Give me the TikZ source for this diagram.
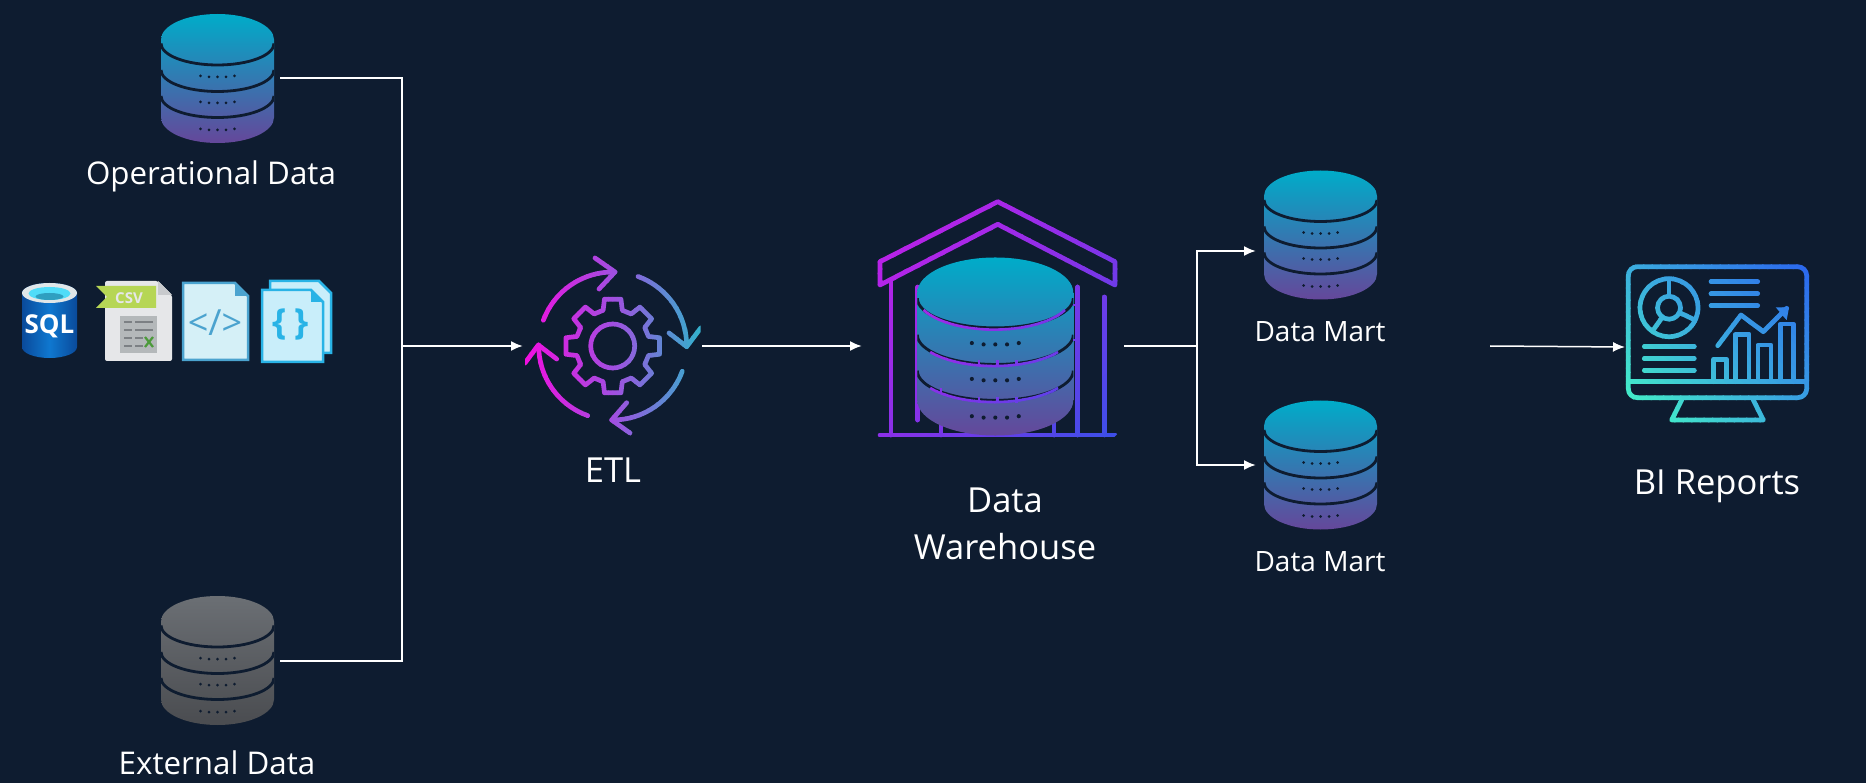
\documentclass[tikz,border=0pt]{standalone}
\usepackage{fontspec}
\setmainfont{Open Sans}
\usetikzlibrary{arrows.meta}

\definecolor{bgnavy}{HTML}{0E1C30}
\definecolor{dbtop}{HTML}{00ACC9}
\definecolor{dbmid}{HTML}{2F7FB2}
\definecolor{dbbot}{HTML}{65479A}
\definecolor{greytop}{HTML}{6B6F74}
\definecolor{greymid}{HTML}{5A5D62}
\definecolor{greybot}{HTML}{4A4C50}
\definecolor{codeline}{HTML}{4BA3CF}
\definecolor{jsonline}{HTML}{29B3E6}
\definecolor{sqldeep}{HTML}{0A4A9A}
\definecolor{sqlmid}{HTML}{0F78D0}
\definecolor{sqlrim}{HTML}{E0E6E8}
\definecolor{sqlcyan}{HTML}{50DCF8}
\definecolor{sqlcyandk}{HTML}{2F9FC0}
\definecolor{csvpaper}{HTML}{E6E7E9}
\definecolor{csvfold}{HTML}{C8CACD}
\definecolor{csvsheet}{HTML}{B4B8BA}
\definecolor{csvbar}{HTML}{7C8084}
\definecolor{csvgreen}{HTML}{4C9A3A}
\definecolor{csvribbon}{HTML}{B6D655}
\definecolor{codepaper}{HTML}{D5F0F7}
\definecolor{jsonpaper}{HTML}{C9EEFA}
\definecolor{etlmag}{HTML}{F010E0}
\definecolor{etlvio}{HTML}{A050E0}
\definecolor{etlteal}{HTML}{30B4CC}
\definecolor{housea}{HTML}{C81EE8}
\definecolor{houseb}{HTML}{8A30E8}
\definecolor{housec}{HTML}{3A50E8}
\definecolor{mona}{HTML}{45F5C5}
\definecolor{monb}{HTML}{3AA8E0}
\definecolor{monc}{HTML}{2B66EE}

\tikzset{
  wire/.style={draw=white, line width=2pt},
  link/.style={wire, -{Latex[length=12pt,width=10pt]}},
  iconbox/.style={inner sep=0pt, outer sep=0pt},
  bandline/.style={draw=bandcol, line width=4.7pt, line cap=round, line join=round},
  lblbig/.style={inner sep=0pt, text=white, align=center, font=\fontsize{34.5}{47}\selectfont},
  lblmid/.style={inner sep=0pt, text=white, font=\fontsize{31.3}{38}\selectfont},
  lblsmall/.style={inner sep=0pt, text=white, font=\fontsize{28}{34}\selectfont},
  dbblue/.style={top color=dbtop, middle color=dbmid, bottom color=dbbot},
  dbgrey/.style={top color=greytop, middle color=greymid, bottom color=greybot},
}

% stack of three discs: x, y, scale, colours
\newcommand{\dbstack}[4]{
  \begin{scope}[shift={(#1,#2)}, scale=#3]
    \path[#4] (-56.5,-39) arc[start angle=180, end angle=360, x radius=56.5, y radius=25.5]
      -- (56.5,39) arc[start angle=0, end angle=180, x radius=56.5, y radius=25.5] -- cycle;
    \begin{scope}
      \clip (-56.5,-39) arc[start angle=180, end angle=360, x radius=56.5, y radius=25.5]
        -- (56.5,39) arc[start angle=0, end angle=180, x radius=56.5, y radius=25.5] -- cycle;
      \foreach \yy in {-35,-8.5,17.5}
        \draw[bgnavy, line width=2.8pt] (56.5,\yy) arc[start angle=0, end angle=180, x radius=56.5, y radius=21.5];
    \end{scope}
    \foreach \yy in {-1.5,24.5,51.5}
      \foreach \xx/\dd in {-17/-1,-8.5/0,0/0,8.5/0,17/-1}
        \fill[bgnavy] (\xx,\yy+\dd) circle[radius=1.5];
  \end{scope}
}

% strokes of one icon in colour bands: strokes, start x, y, end x, y, three stops
\newcommand{\gradbands}[8]{
  \foreach \bandno in {0,...,39}{
    \pgfmathsetmacro{\sa}{\bandno/40}
    \pgfmathsetmacro{\sb}{(\bandno+1)/40+0.003}
    \pgfmathsetmacro{\vx}{#4-#2}
    \pgfmathsetmacro{\vy}{#5-#3}
    \ifnum\bandno<20
      \pgfmathsetmacro{\pa}{100-5*\bandno}
      \colorlet{bandcol}{#6!\pa!#7}
    \else
      \pgfmathsetmacro{\pa}{200-5*\bandno}
      \colorlet{bandcol}{#7!\pa!#8}
    \fi
    \begin{scope}
      \clip ({#2+\vx*\sa-\vy*2},{#3+\vy*\sa+\vx*2}) -- ({#2+\vx*\sb-\vy*2},{#3+\vy*\sb+\vx*2})
        -- ({#2+\vx*\sb+\vy*2},{#3+\vy*\sb-\vx*2}) -- ({#2+\vx*\sa+\vy*2},{#3+\vy*\sa-\vx*2}) -- cycle;
      #1
    \end{scope}
  }
}

\newcommand{\etlstrokes}{
  \begin{scope}[shift={(612.7,346)}]
    \draw[bandline] (-15:37) \foreach \k in {0,...,7}{
        -- (\k*45-10:47.5) -- (\k*45+10:47.5) -- (\k*45+15:37) -- (\k*45+30:37) } -- cycle;
    \draw[bandline] (0,0) circle[radius=22];
    \draw[bandline] (200.5:74) arc[start angle=200.5, end angle=271.5, radius=74];
    \draw[bandline] (290:74) arc[start angle=290, end angle=360.5, radius=74];
    \draw[bandline] (20:74) arc[start angle=20, end angle=90.8, radius=74];
    \draw[bandline] (109.7:74) arc[start angle=109.7, end angle=180.8, radius=74];
  \end{scope}
  \draw[bandline] (595,258) -- (615,272) -- (599,289);
  \draw[bandline] (669,333) -- (686.7,346.7) -- (700.7,328);
  \draw[bandline] (626.7,402.7) -- (611.7,420) -- (630,433);
  \draw[bandline] (525,363) -- (538.3,345) -- (556.7,359);
}

\newcommand{\housestrokes}{
  \draw[bandline] (880,285) -- (880,261.7) -- (997.7,201.7) -- (1115,261.7) -- (1115,285) -- (997.7,224.3) -- cycle;
  \draw[bandline] (891,280) -- (891,435);
  \draw[bandline] (1104.5,297) -- (1104.5,435);
  \draw[bandline] (880,435) -- (1115,435);
  \draw[bandline] (917.7,287) -- (917.7,420);
  \draw[bandline] (1077.7,287) -- (1077.7,435);
  \draw[bandline] (941,410) -- (941,435);
  \draw[bandline] (1054,410) -- (1054,435);
}

\newcommand{\rackstrokes}{
  \begin{scope}[bandline/.append style={line width=2.6pt, line cap=butt}]
    \draw[bandline] (1065,310) arc[start angle=25, end angle=155, x radius=78, y radius=34];
    \draw[bandline] (1058,352) arc[start angle=35, end angle=145, x radius=78, y radius=33];
    \draw[bandline] (1058,388) arc[start angle=35, end angle=145, x radius=78, y radius=33];
    \draw[bandline] (1073,305) -- (1078,305);
    \draw[bandline] (1073,340) -- (1078,340);
    \foreach \xx in {979,997.7,1016.7}{
      \draw[bandline] (\xx,360) -- (\xx,366);
      \draw[bandline] (\xx,397) -- (\xx,403);
    }
    \draw[bandline] (941,388) -- (941,394);
  \end{scope}
}

\newcommand{\monitorstrokes}{
  \draw[bandline, rounded corners=9pt] (1628.3,266.7) rectangle (1806.7,397.7);
  \draw[bandline] (1628.3,381.7) -- (1806.7,381.7);
  \draw[bandline] (1681.7,400) -- (1671.7,420) -- (1763.3,420) -- (1753.3,400);
  \draw[bandline] (1669,307.7) circle[radius=29];
  \draw[bandline] (1669,307.7) circle[radius=11.5];
  \draw[bandline] (1669,296) -- (1669,279);
  \draw[bandline] (1679.5,312.6) -- (1695,320);
  \draw[bandline] (1662.5,317) -- (1652.5,331);
  \foreach \yy in {281.7,293.7,305.7}
    \draw[bandline] (1711,\yy) -- (1757.7,\yy);
  \foreach \yy in {346.7,358.4,370.3}
    \draw[bandline] (1644.3,\yy) -- (1694.3,\yy);
  \draw[bandline] (1713.4,381.7) -- (1713.4,359.3) -- (1726.7,359.3) -- (1726.7,381.7);
  \draw[bandline] (1735.7,381.7) -- (1735.7,334.3) -- (1749,334.3) -- (1749,381.7);
  \draw[bandline] (1757.9,381.7) -- (1757.9,345) -- (1771,345) -- (1771,381.7);
  \draw[bandline] (1780.4,381.7) -- (1780.4,324) -- (1793.3,324) -- (1793.3,381.7);
  \draw[bandline] (1717.7,345.7) -- (1741,315) -- (1763.3,331.7) -- (1786.7,308.3);
  \fill[bandcol] (1775.7,307.3) -- (1789,307.3) -- (1786.7,320) -- cycle;
}

\begin{document}
\begin{tikzpicture}[x=1pt, y=-1pt]
  \useasboundingbox (0,0) rectangle (1866,783);
  \fill[bgnavy] (0,0) rectangle (1866,783);

  % source files
  \shade[left color=sqldeep, right color=sqldeep, middle color=sqlmid]
    (22,293) arc[start angle=180, end angle=360, x radius=27.5, y radius=10]
    -- (77,347) arc[start angle=0, end angle=180, x radius=27.5, y radius=11] -- cycle;
  \fill[sqlrim] (49.5,293) ellipse[x radius=27.5, y radius=10];
  \fill[sqlcyan] (49.5,293.5) ellipse[x radius=21, y radius=6.5];
  \fill[sqlcyandk] (49.5,296.5) ellipse[x radius=14, y radius=3.5];
  \node[inner sep=0pt, text=white, font=\fontsize{26}{30}\bfseries\selectfont] (sqltext) at (49.5,326) {SQL};

  \fill[csvpaper, rounded corners=2pt] (105,281) -- (158,281) -- (172,295) -- (172,361) -- (105,361) -- cycle;
  \fill[csvfold] (158,281) -- (172,295) -- (158,295) -- cycle;
  \fill[csvsheet] (120,316) rectangle (157,353);
  \foreach \yy in {322,330,338,346}{
    \fill[csvbar] (124,\yy-1) rectangle (132,\yy+1);
    \fill[csvbar] (135,\yy-1) rectangle (153,\yy+1);
  }
  \fill[csvsheet] (143,335) rectangle (156,352);
  \draw[csvgreen, line width=2.2pt] (145,337) -- (153,347) (153,337) -- (145,347);
  \fill[csvribbon] (96,286) -- (156,286) -- (156,308) -- (96,308) -- (107,297) -- cycle;
  \node[inner sep=0pt, text=csvpaper, font=\fontsize{15}{16}\bfseries\selectfont] (csvtext) at (129,298) {CSV};

  \draw[codeline, fill=codepaper, line width=2.5pt] (183,283) -- (235,283) -- (248,296) -- (248,360) -- (183,360) -- cycle;
  \fill[codeline] (235,283) -- (248,296) -- (235,296) -- cycle;
  \node[inner sep=0pt, text=codeline, font=\fontsize{36}{38}\selectfont] (codetext) at (215,323) {</>};

  \draw[jsonline, fill=jsonpaper, line width=2.5pt] (270,281) -- (319,281) -- (331,293) -- (331,353) -- (270,353) -- cycle;
  \draw[jsonline, fill=jsonpaper, line width=2.5pt] (262,290) -- (311,290) -- (323,302) -- (323,362) -- (262,362) -- cycle;
  \fill[jsonline] (311,290) -- (323,302) -- (311,302) -- cycle;
  \node[inner sep=0pt, text=jsonline, font=\fontsize{36}{38}\bfseries\selectfont] (jsontext) at (291,324) {\{\hspace{8pt}\}};

  % data stores
  \dbstack{217.5}{78.5}{1}{dbblue}
  \dbstack{217.5}{660.5}{1}{dbgrey}
  \dbstack{1320.5}{235}{1}{dbblue}
  \dbstack{1320.5}{465}{1}{dbblue}

  % gradient icons
  \gradbands{\etlstrokes}{525}{346}{700}{346}{etlmag}{etlvio}{etlteal}
  \gradbands{\housestrokes}{880}{200}{1115}{435}{housea}{houseb}{housec}
  \dbstack{995.3}{346.5}{1.38}{dbblue}
  \gradbands{\rackstrokes}{880}{200}{1115}{435}{housea}{houseb}{housec}
  \gradbands{\monitorstrokes}{1640}{430}{1800}{260}{mona}{monb}{monc}

  % icon boxes for the connectors
  \node[iconbox, minimum width=125pt, minimum height=130pt] (opdata) at (217.5,78.5) {};
  \node[iconbox, minimum width=125pt, minimum height=130pt] (extdata) at (217.5,660.5) {};
  \node[iconbox, minimum width=179pt, minimum height=180pt] (etl) at (612.5,346) {};
  \node[iconbox, minimum width=262pt, minimum height=240pt] (warehouse) at (993,346) {};
  \node[iconbox, minimum width=129pt, minimum height=160pt] (mart1) at (1320.5,251) {};
  \node[iconbox, minimum width=129pt, minimum height=130pt] (mart2) at (1320.5,465) {};
  \node[iconbox, minimum width=185pt, minimum height=160pt] (reports) at (1717.5,347) {};
  \coordinate (bus) at (402,346);
  \coordinate (split) at (1197,346);
  \coordinate (reportfeed) at (1490,346);

  \draw[wire] (opdata.east) -| (bus) |- (extdata.east);
  \draw[link] (bus) -- (etl.west);
  \draw[link] (etl.east) -- (warehouse.west);
  \draw[wire] (warehouse.east) -- (split);
  \draw[link] (split) |- (mart1.west);
  \draw[link] (split) |- (mart2.west);
  \draw[link, line width=1.5pt] (reportfeed) -- (reports.west);

  % labels
  \node[lblmid] (oplabel) at (211,176) {Operational Data};
  \node[lblmid] (extlabel) at (217,763) {External Data};
  \node[lblbig] (etllabel) at (613,470) {ETL};
  \node[lblbig] (dwlabel) at (1005,524) {Data\\Warehouse};
  \node[lblsmall] (martlabel1) at (1320,332) {Data Mart};
  \node[lblsmall] (martlabel2) at (1320,562) {Data Mart};
  \node[lblbig] (bilabel) at (1717,486) {BI Reports};
\end{tikzpicture}
\end{document}
